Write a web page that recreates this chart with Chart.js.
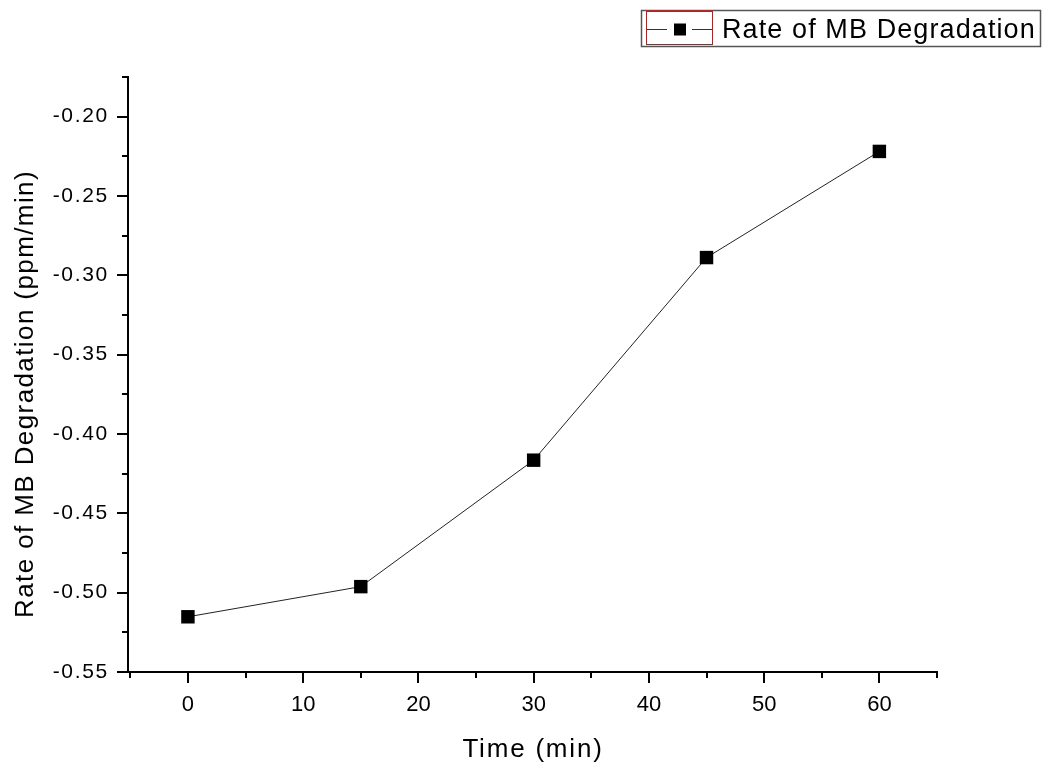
<!DOCTYPE html>
<html>
<head>
<meta charset="utf-8">
<script src="https://cdn.jsdelivr.net/npm/chart.js@4.4.1/dist/chart.umd.min.js"></script>
<style>
  html, body { margin: 0; padding: 0; background: #fff; }
  #wrap { width: 1046px; height: 765px; position: relative; }
</style>
</head>
<body>
<div id="wrap"><canvas id="chart"></canvas></div>
<script>
// ---------------------------------------------------------------
// Data
// ---------------------------------------------------------------
const TIME = [0, 15, 30, 45, 60];
const RATE = [-0.5152, -0.4962, -0.4165, -0.2888, -0.2219];

const X_TICKS = [0, 10, 20, 30, 40, 50, 60];
const X_MINOR = [-5, 5, 15, 25, 35, 45, 55, 65];
const Y_TICKS = [-0.55, -0.50, -0.45, -0.40, -0.35, -0.30, -0.25, -0.20];
const Y_MINOR = [-0.525, -0.475, -0.425, -0.375, -0.325, -0.275, -0.225, -0.175];

const SERIES_LABEL = 'Rate of MB Degradation';
const X_TITLE = 'Time (min)';
const Y_TITLE = 'Rate of MB Degradation (ppm/min)';

const FONT = "Arial, 'Liberation Sans', sans-serif";
Chart.defaults.color = '#000';
Chart.defaults.font.family = FONT;

// ---------------------------------------------------------------
// Origin-style axes: outward major/minor ticks, y labels, titles
// (the text in the reference is a bit letter-spaced)
// ---------------------------------------------------------------
const originAxes = {
  id: 'originAxes',
  afterDraw(chart) {
    const { ctx, chartArea: a } = chart;
    const xs = chart.scales.x, ys = chart.scales.y;
    ctx.save();
    ctx.strokeStyle = '#000';
    ctx.lineWidth = 2;
    ctx.beginPath();
    X_TICKS.forEach(v => { const p = Math.round(xs.getPixelForValue(v)); ctx.moveTo(p, a.bottom); ctx.lineTo(p, a.bottom + 11); });
    X_MINOR.forEach(v => { const p = Math.round(xs.getPixelForValue(v)); ctx.moveTo(p, a.bottom); ctx.lineTo(p, a.bottom + 6); });
    Y_TICKS.forEach(v => { const p = Math.round(ys.getPixelForValue(v)); ctx.moveTo(a.left, p); ctx.lineTo(a.left - 11, p); });
    Y_MINOR.forEach(v => { const p = Math.round(ys.getPixelForValue(v)); ctx.moveTo(a.left, p); ctx.lineTo(a.left - 6, p); });
    ctx.stroke();

    ctx.fillStyle = '#000';

    // y tick labels
    ctx.font = '21px ' + FONT;
    ctx.letterSpacing = '1.7px';
    ctx.textAlign = 'right';
    ctx.textBaseline = 'middle';
    Y_TICKS.forEach(v => ctx.fillText(v.toFixed(2), a.left - 19, ys.getPixelForValue(v)));

    // x axis title
    ctx.font = '26px ' + FONT;
    ctx.letterSpacing = '1.8px';
    ctx.textAlign = 'center';
    ctx.textBaseline = 'alphabetic';
    ctx.fillText(X_TITLE, 533, 756.5);

    // y axis title (rotated)
    ctx.letterSpacing = '1.4px';
    ctx.translate(33, 394);
    ctx.rotate(-Math.PI / 2);
    ctx.fillText(Y_TITLE, 0, 0);
    ctx.restore();
  }
};

// ---------------------------------------------------------------
// Legend box (top right)
// ---------------------------------------------------------------
const originLegend = {
  id: 'originLegend',
  afterDraw(chart) {
    const { ctx } = chart;
    ctx.save();
    ctx.strokeStyle = '#555';
    ctx.lineWidth = 1.5;
    ctx.strokeRect(641.5, 10.5, 399, 36);

    ctx.strokeStyle = '#f00';
    ctx.lineWidth = 1;
    ctx.strokeRect(646.5, 11.5, 66, 33);
    ctx.strokeStyle = '#5ff';
    ctx.beginPath(); ctx.moveTo(646, 45.5); ctx.lineTo(713, 45.5); ctx.stroke();

    ctx.strokeStyle = '#333';
    ctx.beginPath();
    ctx.moveTo(647, 29.5); ctx.lineTo(667, 29.5);
    ctx.moveTo(692, 29.5); ctx.lineTo(712, 29.5);
    ctx.stroke();
    ctx.fillStyle = '#000';
    ctx.fillRect(674, 23.5, 12, 12);

    ctx.font = '27px ' + FONT;
    ctx.letterSpacing = '1.1px';
    ctx.textBaseline = 'alphabetic';
    ctx.fillText(chart.data.datasets[0].label, 722, 38);
    ctx.restore();
  }
};

new Chart(document.getElementById('chart'), {
  type: 'line',
  data: {
    datasets: [{
      label: SERIES_LABEL,
      data: TIME.map((t, i) => ({ x: t, y: RATE[i] })),
      borderColor: '#222',
      borderWidth: 1,
      pointStyle: 'rect',
      pointRadius: 9.5,
      pointBackgroundColor: '#000',
      pointBorderColor: '#000',
      pointBorderWidth: 0,
      tension: 0
    }]
  },
  options: {
    responsive: true,
    maintainAspectRatio: false,
    animation: false,
    layout: { padding: { top: 77, right: 109, left: 0, bottom: 0 } },
    plugins: { legend: { display: false }, tooltip: { enabled: false } },
    scales: {
      x: {
        type: 'linear',
        min: -5.2,
        max: 65,
        afterBuildTicks: s => { s.ticks = X_TICKS.map(v => ({ value: v })); },
        afterFit: s => { s.height = 93; },
        grid: { display: true, drawOnChartArea: false, drawTicks: false, color: 'rgba(0,0,0,0)' },
        border: { display: true, color: '#000', width: 2 },
        ticks: { font: { size: 22 }, padding: 20, maxRotation: 0, callback: v => String(v) }
      },
      y: {
        type: 'linear',
        min: -0.55,
        max: -0.175,
        afterBuildTicks: s => { s.ticks = Y_TICKS.map(v => ({ value: v })); },
        afterFit: s => { s.width = 128; },
        grid: { display: true, drawOnChartArea: false, drawTicks: false, color: 'rgba(0,0,0,0)' },
        border: { display: true, color: '#000', width: 2 },
        ticks: { display: false }
      }
    }
  },
  plugins: [originAxes, originLegend]
});
</script>
</body>
</html>
